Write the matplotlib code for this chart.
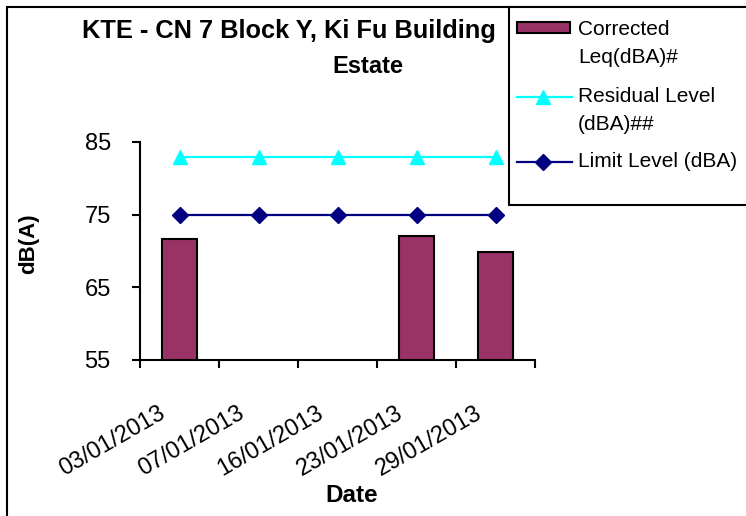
import numpy as np
import matplotlib.pyplot as plt
from matplotlib.patches import Rectangle
from matplotlib.lines import Line2D
from matplotlib.transforms import ScaledTranslation

plt.rcParams["font.family"] = ["Liberation Sans", "DejaVu Sans"]

# data
dates = ["03/01/2013", "07/01/2013", "16/01/2013", "23/01/2013", "29/01/2013"]
leq = [71.6, np.nan, np.nan, 72.1, 69.9]
residual = [83, 83, 83, 83, 83]
limit = [75, 75, 75, 75, 75]

W, H = 746, 516
BAR_COL = "#993366"
RES_COL = "#00FFFF"
LIM_COL = "#000080"


def px(x, y):
    # pixel position (from top-left) -> figure fraction
    return x / W, 1 - y / H


fig = plt.figure(figsize=(W / 100, H / 100), dpi=100)
ax = fig.add_axes([140 / W, 1 - 360 / H, (535 - 140) / W, (360 - 142) / H])

x = np.arange(len(dates))
leq_arr = np.array(leq, dtype=float)
has = ~np.isnan(leq_arr)
ax.bar(x[has], leq_arr[has], width=0.44, bottom=0, color=BAR_COL,
       edgecolor="black", linewidth=1.5, zorder=2)
ax.plot(x, residual, color=RES_COL, marker="^", ms=10, lw=1.6,
        clip_on=False, zorder=3)
ax.plot(x, limit, color=LIM_COL, marker="D", ms=8, lw=1.6,
        clip_on=False, zorder=3)

ax.set_ylim(55, 85)
ax.set_xlim(-0.5, len(dates) - 0.5)
ax.set_yticks([55, 65, 75, 85])
ax.spines["top"].set_visible(False)
ax.spines["right"].set_visible(False)
for s in ("left", "bottom"):
    ax.spines[s].set_linewidth(1.5)

ax.tick_params(axis="y", labelsize=17, length=6, width=1.5, pad=15)
ax.set_xticks(x)
ax.set_xticks(np.arange(len(dates) + 1) - 0.5, minor=True)
ax.tick_params(axis="x", which="major", length=0, pad=30)
ax.tick_params(axis="x", which="minor", length=6, width=1.5)
ax.set_xticklabels(dates, rotation=30, ha="right", fontsize=17)
shift = ScaledTranslation(-10 / 100, 0, fig.dpi_scale_trans)
for lab in ax.get_xticklabels():
    lab.set_transform(lab.get_transform() + shift)

# axis titles
fig.text(*px(29, 244), "dB(A)", rotation=90, fontsize=16, fontweight="bold",
         ha="center", va="center")
fig.text(*px(352, 496), "Date", fontsize=17.5, fontweight="bold",
         ha="center", va="center")

# chart title (second line of it sits centred on the chart area)
fig.text(*px(82, 38), "KTE - CN 7 Block Y, Ki Fu Building", fontsize=18.3,
         fontweight="bold", ha="left", va="baseline")
fig.text(*px(368, 73), "Estate", fontsize=17, fontweight="bold",
         ha="center", va="baseline")

# outer chart border
x0, y0 = px(7, 7)
fig.add_artist(Rectangle((x0, -0.1), 1.2, y0 + 0.1, transform=fig.transFigure,
                         fill=False, edgecolor="black", lw=1.5))

# legend box, Excel style
lx0, ly0 = px(509, 205)
fig.add_artist(Rectangle((lx0, ly0), 1.2, y0 - ly0, transform=fig.transFigure,
                         facecolor="white", edgecolor="black", lw=1.5, zorder=5))
bx0, by0 = px(517, 33)
bx1, by1 = px(570, 22)
fig.add_artist(Rectangle((bx0, by0), bx1 - bx0, by1 - by0,
                         transform=fig.transFigure, facecolor=BAR_COL,
                         edgecolor="black", lw=1.5, zorder=6))
for yy, col, mk, ms in [(97, RES_COL, "^", 10), (162, LIM_COL, "D", 8)]:
    (ax_a, yf), (ax_b, _) = px(517, yy), px(572, yy)
    fig.add_artist(Line2D([ax_a, ax_b], [yf, yf], transform=fig.transFigure,
                          color=col, lw=1.6, zorder=6))
    fig.add_artist(Line2D([px(543, yy)[0]], [yf], transform=fig.transFigure,
                          color=col, marker=mk, ms=ms, zorder=6))
for yy, txt in [(35, "Corrected"), (63, "Leq(dBA)#"), (102, "Residual Level"),
                (130, "(dBA)##"), (167, "Limit Level (dBA)")]:
    fig.text(*px(578, yy), txt, fontsize=15, ha="left", va="baseline",
             zorder=7)

fig.savefig("out.png", dpi=100)
